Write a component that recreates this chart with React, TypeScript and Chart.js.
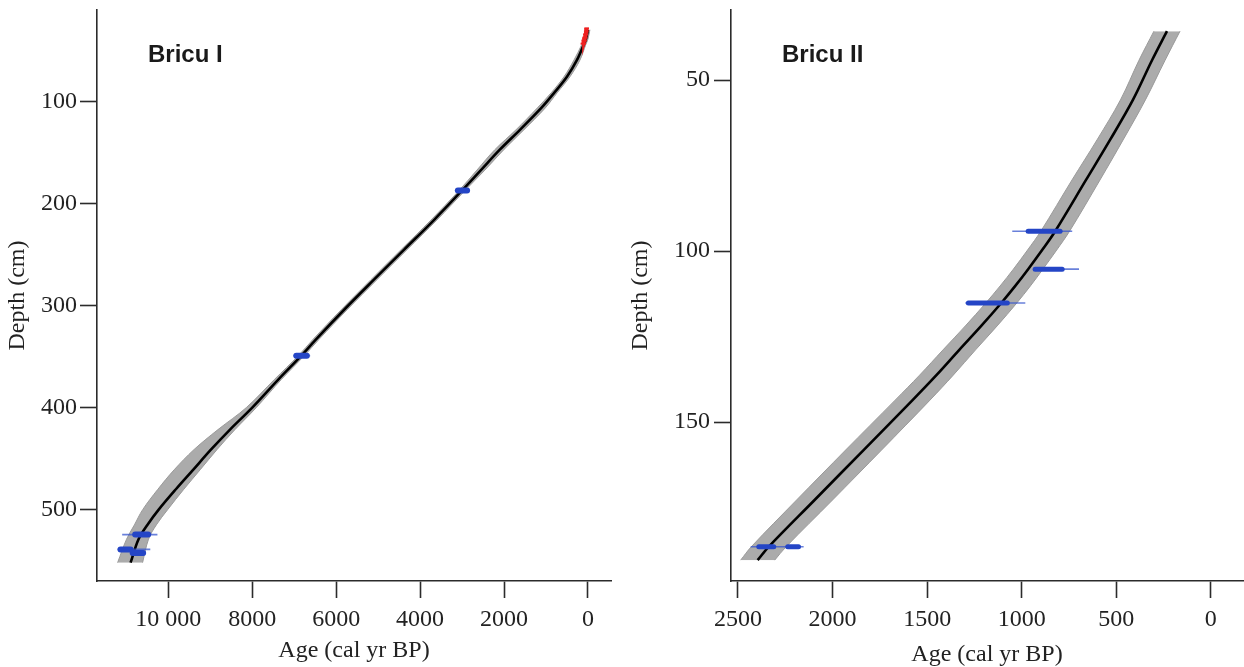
import React, { useEffect, useRef } from 'react';
import { Chart, registerables } from 'chart.js';

Chart.register(...registerables);

// ---------------- Bricu I ----------------
const b1Depth = [29.4, 39, 44, 59, 75.5, 91, 106, 127.5, 147, 167, 187, 216, 245, 274.5, 304, 333, 349, 372.5, 400, 421.5, 441, 461, 480, 500, 515, 529, 552];
const b1Age = [0, 50, 100, 260, 500, 800, 1110, 1620, 2100, 2550, 3000, 3670, 4380, 5100, 5810, 6480, 6830, 7380, 8000, 8530, 8980, 9410, 9820, 10230, 10500, 10710, 10900];
const b1OlderErr = [48, 48, 48, 71, 71, 71, 95, 95, 119, 95, 71, 71, 71, 71, 71, 71, 71, 95, 143, 286, 405, 452, 428, 381, 309, 286, 309];
const b1YoungerErr = [48, 48, 48, 71, 71, 71, 95, 95, 95, 95, 71, 71, 71, 71, 71, 71, 71, 71, 95, 119, 143, 167, 190, 214, 214, 238, 286];

const b1DateDepth = [187, 349, 524.5, 539, 542.5];
const b1DateMin = [2810, 6620, 10260, 10430, 10550];
const b1DateMax = [3170, 7020, 11100, 11210, 10900];
const b1CoreDepth = [187, 349, 524.5, 539, 542.5];
const b1CoreMin = [2880, 6700, 10480, 10900, 10600];
const b1CoreMax = [3100, 6950, 10790, 11140, 10850];

const b1PbDepth = [28, 31, 34, 37, 40, 43];
const b1PbAge = [30, 40, 55, 70, 90, 110];
const b1PbErr = [55, 55, 60, 60, 65, 65];

const b1AgeTicks = [10000, 8000, 6000, 4000, 2000, 0];
const b1AgeTickLabels = ['10 000', '8000', '6000', '4000', '2000', '0'];
const b1DepthTicks = [100, 200, 300, 400, 500];
const b1DepthTickLabels = ['100', '200', '300', '400', '500'];

// ---------------- Bricu II ----------------
const b2Depth = [35.7, 44.2, 55.8, 67.5, 79.2, 94.2, 99.7, 105.3, 110.2, 115.2, 121.9, 128.9, 136.3, 143.6, 158.2, 172.8, 186.5, 190.4];
const b2Age = [232, 311, 412, 533, 660, 823, 892, 966, 1034, 1108, 1214, 1330, 1451, 1577, 1836, 2095, 2338, 2396];
const b2OlderErr = [69, 69, 66, 69, 74, 76, 77, 78, 80, 82, 84, 86, 89, 92, 95, 95, 92, 90];
const b2YoungerErr = [69, 69, 66, 69, 74, 76, 77, 78, 80, 82, 84, 86, 89, 92, 95, 95, 92, 90];

const b2DateDepth = [94.2, 105.3, 115.2, 186.5];
const b2DateMin = [733, 697, 981, 2153];
const b2DateMax = [1050, 934, 1298, 2433];
const b2CoreDepth = [94.2, 105.3, 115.2, 186.5, 186.5];
const b2CoreMin = [797, 786, 1076, 2311, 2180];
const b2CoreMax = [966, 929, 1282, 2390, 2237];

const b2AgeTicks = [2500, 2000, 1500, 1000, 500, 0];
const b2AgeTickLabels = ['2500', '2000', '1500', '1000', '500', '0'];
const b2DepthTicks = [50, 100, 150];
const b2DepthTickLabels = ['50', '100', '150'];

const BAND_FILL = '#ababab';
const BAND_EDGE = '#9a9a9a';
const THIN_BLUE = 'rgba(55, 85, 205, 0.75)';
const CORE_BLUE = '#2445c6';
const RED = '#ee2020';
const AXIS = '#2b2b2b';
const SERIF = '"Liberation Serif", "Times New Roman", serif';
const FONT_SIZE = 24;

type PanelSpec = {
  title: string;
  depth: number[];
  age: number[];
  older: number[];
  younger: number[];
  dateDepth: number[];
  dateMin: number[];
  dateMax: number[];
  coreDepth: number[];
  coreMin: number[];
  coreMax: number[];
  coreWidth: number;
  pbDepth?: number[];
  pbAge?: number[];
  pbErr?: number[];
  xMin: number;
  xMax: number;
  yMin: number;
  yMax: number;
  xTicks: number[];
  xTickLabels: string[];
  yTicks: number[];
  yTickLabels: string[];
  yAxisWidth: number;
  padRight: number;
  yTitlePad: number;
  xTitlePad: number;
  yTickPad: number;
};

function buildDatasets(p: PanelSpec) {
  const ds: any[] = [];
  ds.push({
    data: p.depth.map((d, i) => ({ x: p.age[i] - p.younger[i], y: d })),
    borderColor: BAND_EDGE,
    borderWidth: 1,
    pointRadius: 0,
    tension: 0.35,
    fill: false,
    order: 10,
  });
  ds.push({
    data: p.depth.map((d, i) => ({ x: p.age[i] + p.older[i], y: d })),
    borderColor: BAND_EDGE,
    borderWidth: 1,
    pointRadius: 0,
    tension: 0.35,
    backgroundColor: BAND_FILL,
    fill: 0,
    order: 10,
  });
  ds.push({
    data: p.depth.map((d, i) => ({ x: p.age[i], y: d })),
    borderColor: '#000',
    borderWidth: 2.6,
    pointRadius: 0,
    tension: 0.35,
    fill: false,
    order: 5,
  });
  p.dateDepth.forEach((d, i) => {
    ds.push({
      data: [
        { x: p.dateMin[i], y: d },
        { x: p.dateMax[i], y: d },
      ],
      borderColor: THIN_BLUE,
      borderWidth: 1.6,
      pointRadius: 0,
      fill: false,
      order: 3,
    });
  });
  p.coreDepth.forEach((d, i) => {
    ds.push({
      data: [
        { x: p.coreMin[i], y: d },
        { x: p.coreMax[i], y: d },
      ],
      borderColor: CORE_BLUE,
      borderWidth: p.coreWidth,
      borderCapStyle: 'round',
      pointRadius: 0,
      fill: false,
      order: 2,
    });
  });
  if (p.pbDepth && p.pbAge && p.pbErr) {
    ds.push({
      data: p.pbDepth.map((d, i) => ({ x: p.pbAge[i], y: d })),
      borderColor: RED,
      borderWidth: 4,
      pointRadius: 0,
      fill: false,
      order: 1,
    });
    p.pbDepth.forEach((d, i) => {
      ds.push({
        data: [
          { x: p.pbAge[i] - p.pbErr[i], y: d },
          { x: p.pbAge[i] + p.pbErr[i], y: d },
        ],
        borderColor: RED,
        borderWidth: 2,
        pointRadius: 0,
        fill: false,
        order: 1,
      });
    });
  }
  return ds;
}

function makeConfig(p: PanelSpec): any {
  const titlePlugin = {
    id: 'panelTitle',
    afterDraw(chart: any) {
      const { ctx, chartArea } = chart;
      ctx.save();
      ctx.font = 'bold 24px "Liberation Sans", Arial, sans-serif';
      ctx.fillStyle = '#1a1a1a';
      ctx.textBaseline = 'middle';
      ctx.textAlign = 'left';
      ctx.fillText(p.title, chartArea.left + 51, chartArea.top + 45);
      ctx.restore();
    },
  };
  return {
    type: 'line',
    data: { datasets: buildDatasets(p) },
    plugins: [titlePlugin],
    options: {
      responsive: false,
      animation: false,
      indexAxis: 'y',
      events: [],
      layout: {
        autoPadding: false,
        padding: { left: 0, top: 10, right: p.padRight, bottom: 0 },
      },
      plugins: {
        legend: { display: false },
        tooltip: { enabled: false },
      },
      scales: {
        x: {
          type: 'linear',
          position: 'bottom',
          reverse: true,
          min: p.xMin,
          max: p.xMax,
          afterBuildTicks: (s: any) => {
            s.ticks = p.xTicks.map((v) => ({ value: v }));
          },
          afterFit: (s: any) => {
            s.height = 86;
            s.paddingLeft = 0;
            s.paddingRight = 0;
          },
          ticks: {
            autoSkip: false,
            maxRotation: 0,
            padding: 7.5,
            color: '#222',
            font: { family: SERIF, size: FONT_SIZE },
            callback: (_v: any, i: number) => p.xTickLabels[i],
          },
          grid: {
            drawOnChartArea: false,
            drawTicks: true,
            tickLength: 17,
            tickWidth: 1.6,
            tickColor: AXIS,
          },
          border: { display: true, color: AXIS, width: 1.6 },
          title: {
            display: true,
            text: 'Age (cal yr BP)',
            color: '#222',
            font: { family: SERIF, size: FONT_SIZE },
            padding: { top: 0, bottom: p.xTitlePad },
          },
        },
        y: {
          type: 'linear',
          position: 'left',
          reverse: true,
          min: p.yMin,
          max: p.yMax,
          afterBuildTicks: (s: any) => {
            s.ticks = p.yTicks.map((v) => ({ value: v }));
          },
          afterFit: (s: any) => {
            s.width = p.yAxisWidth;
            s.paddingTop = 0;
            s.paddingBottom = 0;
          },
          ticks: {
            autoSkip: false,
            padding: p.yTickPad,
            color: '#222',
            font: { family: SERIF, size: FONT_SIZE },
            callback: (_v: any, i: number) => p.yTickLabels[i],
          },
          grid: {
            drawOnChartArea: false,
            drawTicks: true,
            tickLength: 17,
            tickWidth: 1.6,
            tickColor: AXIS,
          },
          border: { display: true, color: AXIS, width: 1.6 },
          title: {
            display: true,
            text: 'Depth (cm)',
            color: '#222',
            font: { family: SERIF, size: FONT_SIZE },
            padding: { top: p.yTitlePad, bottom: 0 },
          },
        },
      },
    },
  };
}

const leftPanel: PanelSpec = {
  title: 'Bricu I',
  depth: b1Depth,
  age: b1Age,
  older: b1OlderErr,
  younger: b1YoungerErr,
  dateDepth: b1DateDepth,
  dateMin: b1DateMin,
  dateMax: b1DateMax,
  coreDepth: b1CoreDepth,
  coreMin: b1CoreMin,
  coreMax: b1CoreMax,
  coreWidth: 6,
  pbDepth: b1PbDepth,
  pbAge: b1PbAge,
  pbErr: b1PbErr,
  xMin: -550,
  xMax: 11700,
  yMin: 10,
  yMax: 570,
  xTicks: b1AgeTicks,
  xTickLabels: b1AgeTickLabels,
  yTicks: b1DepthTicks,
  yTickLabels: b1DepthTickLabels,
  yAxisWidth: 97,
  padRight: 11,
  yTitlePad: 3.6,
  xTitlePad: 1.6,
  yTickPad: 3,
};

const rightPanel: PanelSpec = {
  title: 'Bricu II',
  depth: b2Depth,
  age: b2Age,
  older: b2OlderErr,
  younger: b2YoungerErr,
  dateDepth: b2DateDepth,
  dateMin: b2DateMin,
  dateMax: b2DateMax,
  coreDepth: b2CoreDepth,
  coreMin: b2CoreMin,
  coreMax: b2CoreMax,
  coreWidth: 5,
  xMin: -170,
  xMax: 2537,
  yMin: 29.5,
  yMax: 196.5,
  xTicks: b2AgeTicks,
  xTickLabels: b2AgeTickLabels,
  yTicks: b2DepthTicks,
  yTickLabels: b2DepthTickLabels,
  yAxisWidth: 109,
  padRight: 1,
  yTitlePad: 4.6,
  xTitlePad: -2,
  yTickPad: 4,
};

function PanelChart({ spec, left }: { spec: PanelSpec; left: number }) {
  const ref = useRef<HTMLCanvasElement | null>(null);
  useEffect(() => {
    if (!ref.current) return;
    const chart = new Chart(ref.current, makeConfig(spec));
    return () => chart.destroy();
  }, [spec]);
  return (
    <canvas
      ref={ref}
      width={622}
      height={667}
      style={{ position: 'absolute', left, top: 0, width: 622, height: 667, display: 'block' }}
    />
  );
}

export default function App() {
  return (
    <div style={{ position: 'absolute', left: 0, top: 0, width: 1244, height: 667, background: '#fff', overflow: 'hidden' }}>
      <PanelChart spec={leftPanel} left={0} />
      <PanelChart spec={rightPanel} left={622} />
    </div>
  );
}
